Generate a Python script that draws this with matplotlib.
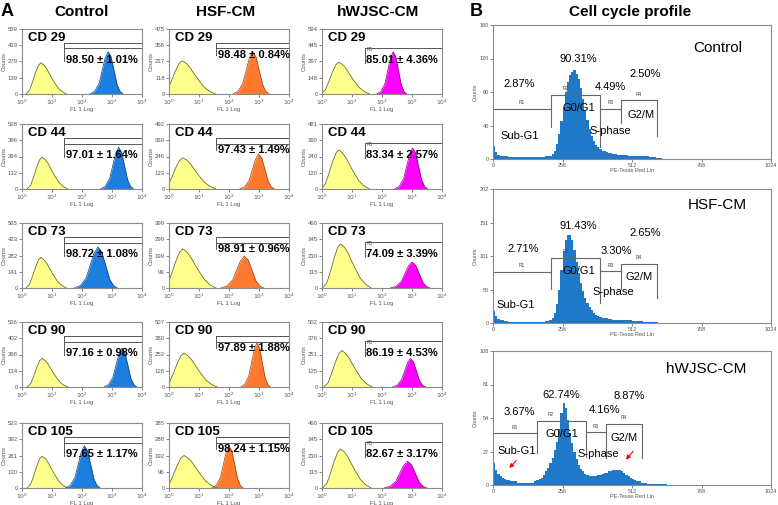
import numpy as np
import matplotlib.pyplot as plt

plt.rcParams['font.family'] = ['Liberation Sans', 'DejaVu Sans']

W, H = 778, 505

# ---------------- panel A: surface markers ----------------
groups = ['Control', 'HSF-CM', 'hWJSC-CM']
markers = ['CD 29', 'CD 44', 'CD 73', 'CD 90', 'CD 105']

ymax_control = [559, 528, 565, 536, 523]
ymax_hsf = [475, 492, 399, 507, 385]
ymax_hwjsc = [594, 481, 460, 502, 460]

pct_control = ['98.50 ± 1.01%', '97.01 ± 1.64%', '98.72 ± 1.08%', '97.16 ± 0.98%', '97.65 ± 1.17%']
pct_hsf = ['98.48 ± 0.84%', '97.43 ± 1.49%', '98.91 ± 0.96%', '97.89 ± 1.88%', '98.24 ± 1.15%']
pct_hwjsc = ['85.01 ± 4.36%', '83.34 ± 2.57%', '74.09 ± 3.39%', '86.19 ± 4.53%', '82.67 ± 3.17%']

# stained peak: log10 position, height (fraction of y max), width factor
peak_control = [2.87, 3.22, 2.53, 3.33, 2.08]
height_control = [0.65, 0.64, 0.63, 0.60, 0.65]
width_control = [1.0, 1.0, 1.3, 1.0, 1.05]
peak_hsf = [2.79, 2.99, 2.51, 2.93, 2.0]
height_hsf = [0.65, 0.54, 0.49, 0.68, 0.65]
width_hsf = [1.1, 1.05, 1.3, 0.9, 0.95]
peak_hwjsc = [2.37, 3.02, 3.0, 2.95, 2.85]
height_hwjsc = [0.65, 0.63, 0.40, 0.44, 0.41]
width_hwjsc = [0.9, 1.0, 1.2, 1.0, 1.3]

# isotype (yellow) peak
iso_control = [0.63, 0.67, 0.63, 0.67, 0.67]
iso_h_control = [0.48, 0.49, 0.47, 0.44, 0.49]
iso_hsf = [0.44, 0.46, 0.46, 0.50, 0.50]
iso_h_hsf = [0.51, 0.48, 0.60, 0.52, 0.50]
iso_hwjsc = [0.56, 0.56, 0.62, 0.66, 0.62]
iso_h_hwjsc = [0.49, 0.60, 0.68, 0.56, 0.60]
iso_width = [1.0, 1.3, 1.2]

# histogram outlines (offset in decades, relative height)
iso_off = [-0.5, -0.38, -0.28, -0.18, -0.08, 0, 0.1, 0.2, 0.3, 0.42, 0.55, 0.7, 0.85]
iso_rel = [0, 0.12, 0.38, 0.68, 0.92, 1.0, 0.93, 0.8, 0.62, 0.42, 0.22, 0.08, 0]
pos_off = [-0.6, -0.45, -0.3, -0.2, -0.1, 0, 0.1, 0.2, 0.3, 0.4, 0.5]
pos_rel = [0, 0.06, 0.25, 0.55, 0.85, 1.0, 0.88, 0.55, 0.22, 0.06, 0]

fill_cols = ['#1C7FE0', '#FF7A2E', '#FF00FF']
edge_cols = ['#0E3F7A', '#9A3C0C', '#7A007A']

col_left = [22, 169, 322]
row_top = [29, 124, 223, 322, 423]
pw, ph = 120, 65

gate_x = [10 ** 1.4, 10 ** 1.58, 10 ** 1.42]

fig = plt.figure(figsize=(W / 100, H / 100), dpi=100)


def add_ax(l, t, w, h):
    return fig.add_axes([l / W, 1 - (t + h) / H, w / W, h / H])


data = [
    (ymax_control, pct_control, peak_control, height_control, width_control, iso_control, iso_h_control),
    (ymax_hsf, pct_hsf, peak_hsf, height_hsf, width_hsf, iso_hsf, iso_h_hsf),
    (ymax_hwjsc, pct_hwjsc, peak_hwjsc, height_hwjsc, width_hwjsc, iso_hwjsc, iso_h_hwjsc),
]

for c in range(3):
    ymaxs, pcts, pk, hk, wk, ik, ihk = data[c]
    for r in range(5):
        ax = add_ax(col_left[c], row_top[r], pw, ph)
        ym = ymaxs[r]
        xi = 10 ** (ik[r] + np.array(iso_off) * iso_width[c])
        yi = np.array(iso_rel) * ihk[r] * ym
        ax.fill_between(xi, yi, color='#FFFF8C', lw=0)
        ax.plot(xi, yi, color='#6B6B2A', lw=0.6)
        xp = 10 ** (pk[r] + np.array(pos_off) * wk[r])
        yp = np.array(pos_rel) * hk[r] * ym
        ax.fill_between(xp, yp, color=fill_cols[c], lw=0)
        ax.plot(xp, yp, color=edge_cols[c], lw=0.5)

        ax.set_xscale('log')
        ax.set_xlim(1, 1e4)
        ax.set_ylim(0, ym)
        ax.set_xticks([1, 10, 100, 1000, 10000])
        ax.set_xticklabels(['$10^0$', '$10^1$', '$10^2$', '$10^3$', '$10^4$'])
        ax.minorticks_off()
        ax.set_yticks([0, ym / 4, ym / 2, ym * 3 / 4, ym])
        ax.set_yticklabels([str(int(ym * k / 4)) for k in range(5)])
        ax.tick_params(labelsize=4.3, length=2, width=0.5, pad=1, colors='#555555')
        ax.set_xlabel('FL 1 Log', fontsize=4.3, labelpad=0, color='#555555')
        ax.set_ylabel('Counts', fontsize=4.3, labelpad=1, color='#555555')
        for s in ax.spines.values():
            s.set_color('#8A8A8A')
            s.set_linewidth(0.8)

        tr = ax.get_xaxis_transform()
        gx = gate_x[c]
        if c < 2:
            ax.plot([gx, 1e4], [0.79, 0.79], transform=tr, color='#555555', lw=0.7, clip_on=False)
            ax.plot([gx, 1e4], [0.70, 0.70], transform=tr, color='#555555', lw=0.7, clip_on=False)
            ax.plot([gx, gx], [0.79, 0.5 if c == 0 else 0.6], transform=tr, color='#555555', lw=0.7)
            tx, ty = (0.365, 0.53) if c == 0 else (0.405, 0.6)
        else:
            ax.plot([gx, 1e4], [0.71, 0.71], transform=tr, color='#555555', lw=0.7, clip_on=False)
            ax.plot([gx, gx], [0.71, 0.47], transform=tr, color='#555555', lw=0.7)
            ax.text(0.375, 0.66, 'R5', transform=ax.transAxes, fontsize=3.5, color='#555555')
            tx, ty = 0.37, 0.52
        ax.text(tx, ty, pcts[r], transform=ax.transAxes, fontsize=8, fontweight='bold',
                va='center', ha='left')
        ax.text(0.05, 0.86, markers[r], transform=ax.transAxes, fontsize=9.5,
                fontweight='bold', va='center', ha='left')

fig.text(1 / W, 1 - 12 / H, 'A', fontsize=13, fontweight='bold', va='center')
fig.text(82 / W, 1 - 12 / H, groups[0], fontsize=11, fontweight='bold', ha='center', va='center')
fig.text(226 / W, 1 - 12 / H, groups[1], fontsize=11, fontweight='bold', ha='center', va='center')
fig.text(378 / W, 1 - 12 / H, groups[2], fontsize=11, fontweight='bold', ha='center', va='center')

# ---------------- panel B: cell cycle ----------------
bin_edges = np.arange(0, 648, 8)

cc_control = [15, 8, 5, 4, 3, 3, 3, 2, 2, 2, 2, 2, 2, 2, 2, 2, 2, 2, 2, 2, 2, 2, 2, 2, 3, 3,
              4, 6, 10, 18, 30, 45, 62, 80, 92, 100, 104, 106, 102, 95, 85, 72, 58, 46, 36, 28,
              22, 17, 14, 12, 10, 9, 8, 7, 7, 6, 6, 5, 5, 5, 5, 5, 4, 4, 4, 4, 4, 4, 3, 3,
              3, 3, 2, 2, 2, 1, 1, 1, 0, 0]
cc_hsf = [18, 10, 6, 5, 4, 3, 3, 2, 2, 2, 2, 2, 2, 2, 2, 2, 2, 2, 2, 2, 2, 2, 2, 2, 3, 3,
          5, 8, 15, 28, 50, 80, 108, 125, 132, 133, 125, 110, 92, 75, 60, 48, 38, 30, 24, 19,
          15, 12, 10, 9, 8, 7, 7, 6, 6, 5, 5, 5, 4, 4, 4, 4, 4, 4, 3, 3, 3, 3, 3, 2,
          2, 2, 2, 1, 1, 1, 0, 0, 0, 0]
cc_hwjsc = [18, 12, 9, 7, 6, 5, 4, 4, 3, 3, 3, 2, 2, 2, 2, 2, 2, 2, 2, 3, 4, 5, 6, 8, 11, 14,
            18, 22, 28, 35, 45, 58, 66, 62, 52, 42, 34, 27, 21, 16, 13, 11, 9, 8, 7, 7,
            7, 7, 8, 8, 9, 10, 10, 11, 11, 12, 12, 12, 12, 11, 10, 8, 7, 6, 5, 4, 3, 3, 2, 2,
            2, 1, 1, 1, 1, 1, 1, 1, 1, 1]

cc_names = ['Control', 'HSF-CM', 'hWJSC-CM']
cc_ymax = [160, 202, 108]
cc_yticks = [[0, 40, 80, 120, 160], [0, 50, 101, 151, 202], [0, 27, 54, 81, 108]]
cc_pct = [['2.87%', '90.31%', '4.49%', '2.50%'],
          ['2.71%', '91.43%', '3.30%', '2.65%'],
          ['3.67%', '62.74%', '4.16%', '8.87%']]
phases = ['Sub-G1', 'G0/G1', 'S-phase', 'G2/M']

# gate boundaries: R2 start, R2 end, R4 start, R4 end (channel)
gate_edges = [[215, 395, 473, 603], [215, 395, 473, 603], [162, 341, 417, 547]]
# gate levels R1..R4 (counts)
gate_levels = [[60, 77, 60, 70], [77, 98, 78, 89], [41.7, 51.9, 42.5, 49.2]]
# lower ends of R2 left/right and R4 left/right
gate_drops = [[38, 14, 43, 28], [51, 30, 51, 38], [25.5, 22.8, 21.5, 22]]

pct_pos = [[(98, 89), (315, 120), (432, 86), (559, 102)],
           [(110, 112), (315, 146), (456, 108), (559, 136)],
           [(98, 59), (252, 72.6), (411, 60.5), (501, 72)]]
phase_pos = [[(98, 27), (315, 61), (432, 34), (546, 53)],
             [(84, 27), (315, 79), (444, 46), (538, 69)],
             [(86, 27), (252, 41), (387, 25), (481, 38)]]
name_pos = [(828, 132), (828, 178), (786, 93.5)]

cc_top = [25, 189, 351]
cc_data = [cc_control, cc_hsf, cc_hwjsc]

for i in range(3):
    ax = add_ax(493, cc_top[i], 278, 134)
    ax.stairs(cc_data[i], bin_edges, fill=True, color='#1F78C8', lw=0)
    ax.set_xlim(0, 1024)
    ax.set_ylim(0, cc_ymax[i])
    ax.set_xticks([0, 256, 512, 768, 1024])
    ax.set_yticks(cc_yticks[i])
    ax.tick_params(labelsize=4, length=2, width=0.5, pad=1, colors='#555555')
    ax.set_xlabel('PE-Texas Red Lin', fontsize=4, labelpad=0, color='#555555')
    ax.set_ylabel('Counts', fontsize=4, labelpad=1, color='#555555')
    for s in ax.spines.values():
        s.set_color('#8A8A8A')
        s.set_linewidth(0.8)

    e = gate_edges[i]
    lv = gate_levels[i]
    dr = gate_drops[i]
    gc = '#666666'
    ax.plot([0, e[0]], [lv[0], lv[0]], color=gc, lw=0.8)
    ax.plot([e[0], e[0], e[1], e[1]], [dr[0], lv[1], lv[1], dr[1]], color=gc, lw=0.8)
    ax.plot([e[1], e[2]], [lv[2], lv[2]], color=gc, lw=0.8)
    ax.plot([e[2], e[2], e[3], e[3]], [dr[2], lv[3], lv[3], dr[3]], color=gc, lw=0.8)
    off = 0.045 * cc_ymax[i]
    ax.text(e[0] / 2, lv[0] + off, 'R1', fontsize=3.5, ha='center', va='center', color='#444444')
    ax.text(e[0] + 52, lv[1] + off, 'R2', fontsize=3.5, ha='center', va='center', color='#444444')
    ax.text((e[1] + e[2]) / 2, lv[2] + off, 'R3', fontsize=3.5, ha='center', va='center', color='#444444')
    ax.text((e[2] + e[3]) / 2, lv[3] + off, 'R4', fontsize=3.5, ha='center', va='center', color='#444444')

    for k in range(4):
        ax.text(*pct_pos[i][k], cc_pct[i][k], fontsize=8, ha='center', va='center')
        ax.text(*phase_pos[i][k], phases[k], fontsize=8, ha='center', va='center')
    ax.text(*name_pos[i], cc_names[i], fontsize=11, ha='center', va='center')

    if i == 2:
        ax.annotate('', xy=(53, 12), xytext=(93, 21.5),
                    arrowprops=dict(arrowstyle='-|>', color='red', lw=0.8, mutation_scale=6))
        ax.annotate('', xy=(483, 18.8), xytext=(523, 28.8),
                    arrowprops=dict(arrowstyle='-|>', color='red', lw=0.8, mutation_scale=6))

fig.text(470 / W, 1 - 12 / H, 'B', fontsize=13, fontweight='bold', va='center')
fig.text(630 / W, 1 - 12 / H, 'Cell cycle profile', fontsize=11, fontweight='bold',
         ha='center', va='center')

fig.savefig('out.png', dpi=100)
